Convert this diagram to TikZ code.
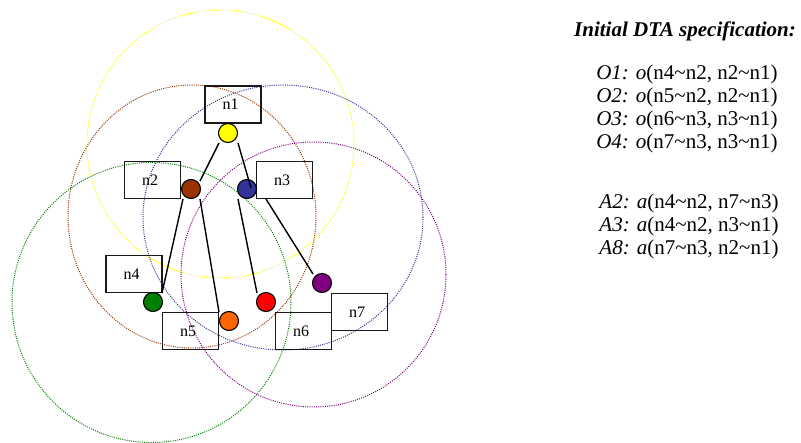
\documentclass[tikz,border=0pt]{standalone}
\usepackage{fontspec}
\setmainfont{Liberation Serif}
\usetikzlibrary{calc}
\definecolor{cyel}{RGB}{255,255,0}
\definecolor{cbrown}{RGB}{153,51,0}
\definecolor{cblue}{RGB}{51,51,153}
\definecolor{cgreen}{RGB}{0,128,0}
\definecolor{corange}{RGB}{255,102,0}
\definecolor{cred}{RGB}{255,0,0}
\definecolor{cpurple}{RGB}{128,0,128}
\begin{document}
\begin{tikzpicture}[x=1pt,y=-1pt,
 rangecirc/.style={line width=1pt, dash pattern=on 1pt off 1.2pt},
 boxnode/.style={draw=black!90, line width=1.6pt, minimum width=56pt, minimum height=37pt, inner sep=0pt, font=\fontsize{16}{18}\selectfont},
 dotnode/.style={circle, draw=black, line width=1.1pt, minimum size=19pt, inner sep=0pt},
 linkline/.style={draw=black, line width=1.4pt},
 spectext/.style={anchor=base, font=\fontsize{21}{23}\selectfont, inner sep=0pt}]
\useasboundingbox (0,0) rectangle (801,443);
% ranges
\draw[rangecirc, cyel] (220.5,144) ellipse [x radius=133.5pt, y radius=134pt];
\draw[rangecirc, cbrown] (192,216.5) ellipse [x radius=124pt, y radius=131.5pt];
\draw[rangecirc, cblue] (283,217.5) ellipse [x radius=140pt, y radius=132.5pt];
\draw[rangecirc, cgreen] (151.5,302.5) ellipse [x radius=139.5pt, y radius=140pt];
\draw[rangecirc, cpurple] (313.5,274.5) ellipse [x radius=132.5pt, y radius=132.5pt];
% boxes
\node[boxnode] (n1) at (233,104.5) {n1\kern5pt};
\node[boxnode] (n2) at (152.5,180) {n2\kern5pt};
\node[boxnode] (n3) at (284.5,180) {n3\kern5pt};
\node[boxnode] (n4) at (134,274) {n4\kern5pt};
\node[boxnode] (n5) at (190.5,331) {n5\kern5pt};
\node[boxnode] (n6) at (303.5,331) {n6\kern5pt};
\node[boxnode] (n7) at (359.5,312) {n7\kern5pt};
% dots
\node[dotnode, fill=cyel] (dy) at (228,133) {};
\node[dotnode, fill=cbrown] (db) at (191,189) {};
\node[dotnode, fill=cblue] (dbl) at (247,189) {};
\node[dotnode, fill=cgreen] (dg) at (153,302) {};
\node[dotnode, fill=corange] (do) at (229,321) {};
\node[dotnode, fill=cred] (dr) at (266,302) {};
\node[dotnode, fill=cpurple] (dp) at (322,283) {};
% links
\draw[linkline] ($(dy)+(-9,10)$) -- ($(db)+(9,-8)$);
\draw[linkline] ($(dy)+(10,10)$) -- ($(dbl)+(4,-1)$);
\draw[linkline] ($(db)+(-8,10)$) -- ($(dg)+(9,-9)$);
\draw[linkline] ($(db)+(9,10)$) -- ($(do)+(-10,-9)$);
\draw[linkline] ($(dbl)+(-9,10)$) -- ($(dr)+(-9,-9)$);
\draw[linkline] ($(dbl)+(19,10)$) -- ($(dp)+(-9,-9)$);
% specification
\node[spectext] (title) at (685,37) {\bfseries\itshape Initial DTA specification:};
\node[spectext] (o1) at (687,80) {\textit{O1:} \textit{o}(n4\textasciitilde n2, n2\textasciitilde n1)};
\node[spectext] (o2) at (687,103) {\textit{O2:} \textit{o}(n5\textasciitilde n2, n2\textasciitilde n1)};
\node[spectext] (o3) at (687,126) {\textit{O3:} \textit{o}(n6\textasciitilde n3, n3\textasciitilde n1)};
\node[spectext] (o4) at (687,149) {\textit{O4:} \textit{o}(n7\textasciitilde n3, n3\textasciitilde n1)};
\node[spectext] (a2) at (689,209) {\textit{A2:} \textit{a}(n4\textasciitilde n2, n7\textasciitilde n3)};
\node[spectext] (a3) at (689,232) {\textit{A3:} \textit{a}(n4\textasciitilde n2, n3\textasciitilde n1)};
\node[spectext] (a8) at (689,255) {\textit{A8:} \textit{a}(n7\textasciitilde n3, n2\textasciitilde n1)};
\end{tikzpicture}
\end{document}
